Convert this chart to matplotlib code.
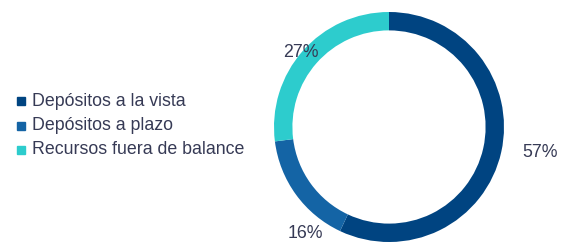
import matplotlib
matplotlib.use("Agg")
import matplotlib.pyplot as plt
from matplotlib.patches import Rectangle

categories = ["Depósitos a la vista", "Depósitos a plazo", "Recursos fuera de balance"]
values = [57, 16, 27]
labels = ["57%", "16%", "27%"]
colors = ["#004481", "#1464A5", "#2DCCCD"]
label_pos = [(1.31, -0.22), (-0.73, -0.93), (-0.77, 0.65)]

plt.rcParams['font.family'] = ['Liberation Sans', 'DejaVu Sans']
W, H = 576, 244
fig = plt.figure(figsize=(W/100, H/100), dpi=100)

cx, cy, r = 389, 127, 115
ax = fig.add_axes([(cx - r)/W, (H - cy - r)/H, 2*r/W, 2*r/H])
ax.pie(values, colors=colors, startangle=90, counterclock=False,
       radius=1.0, wedgeprops=dict(width=0.16, edgecolor='none'))
ax.set_xlim(-1, 1)
ax.set_ylim(-1, 1)
ax.set_aspect('equal')
ax.axis('off')
txtc = "#363A55"
for lab, (x, y) in zip(labels, label_pos):
    ax.text(x, y, lab, ha='center', va='center', fontsize=12.8, color=txtc, clip_on=False)

rows_y = [101, 126, 150]
for cat, col, y in zip(categories, colors, rows_y):
    fig.patches.append(Rectangle((17/W, (H - y - 4)/H), 8/W, 8/H,
                                 transform=fig.transFigure, color=col))
    fig.text(32/W, (H - y)/H, cat, ha='left', va='center', fontsize=12.8, color=txtc)

fig.savefig("out.png", dpi=100)
